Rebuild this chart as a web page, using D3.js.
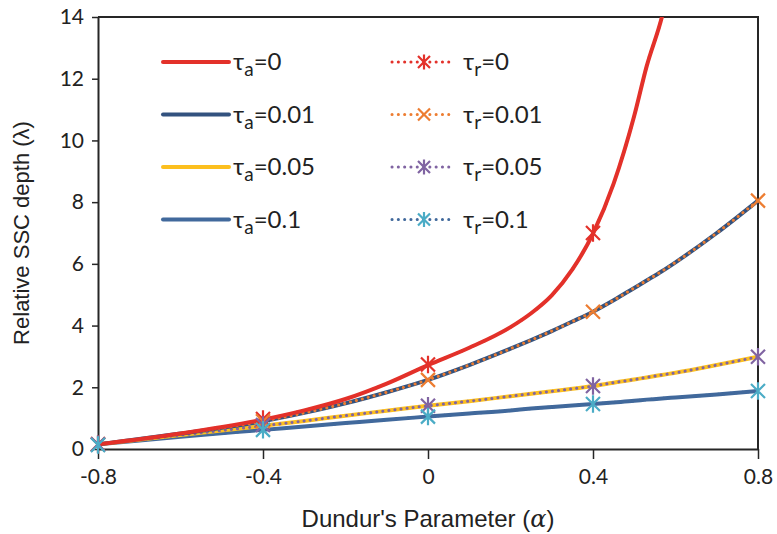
<!DOCTYPE html>
<html>
<head>
<meta charset="utf-8">
<script src="https://cdn.jsdelivr.net/npm/d3@7"></script>
<style>
  body { margin: 0; background: #fff; }
  #chart { width: 777px; height: 534px; }
</style>
</head>
<body>
<div id="chart"></div>
<script>
// x values of the marker points and the curve samples
var alphaMarks = [-0.8, -0.4, 0, 0.4, 0.8];
var alphaCurve = [-0.8, -0.6, -0.4, -0.3, -0.2, -0.1, 0, 0.1, 0.2, 0.25, 0.3, 0.35, 0.4, 0.45, 0.5, 0.53, 0.567, 0.6, 0.7, 0.8];

// solid curves (tau_a)
var curveT0   = [0.15, 0.5, 0.95, 1.25, 1.62, 2.12, 2.72, 3.28, 3.95, 4.4, 4.98, 5.82, 6.98, 8.6, 10.8, 12.4, 14.0, 16.0, null, null];
var curveT001 = [0.15, 0.5, 0.9, 1.17, 1.48, 1.84, 2.24, 2.72, 3.25, 3.53, 3.82, 4.13, 4.45, 4.82, 5.22, 5.46, 5.76, 6.05, 7.0, 8.05];
var curveT005 = [0.15, 0.45, 0.75, 0.91, 1.08, 1.24, 1.40, 1.55, 1.71, 1.79, 1.87, 1.95, 2.04, 2.15, 2.25, 2.32, 2.4, 2.47, 2.72, 2.99];
var curveT01  = [0.15, 0.4, 0.62, 0.73, 0.84, 0.95, 1.05, 1.15, 1.25, 1.31, 1.36, 1.41, 1.46, 1.51, 1.56, 1.6, 1.64, 1.67, 1.77, 1.88];

// marker values (tau_r)
var markR0   = [0.15, 0.97, 2.74, 7.0, null];
var markR001 = [0.15, 0.9, 2.24, 4.45, 8.05];
var markR005 = [0.15, 0.78, 1.40, 2.04, 2.99];
var markR01  = [0.13, 0.62, 1.05, 1.46, 1.88];

var xTicks = [-0.8, -0.4, 0, 0.4, 0.8];
var yTicks = [0, 2, 4, 6, 8, 10, 12, 14];

var seriesA = [
  { name: "0",    values: curveT0,   color: "#e3312a" },
  { name: "0.01", values: curveT001, color: "#33527f" },
  { name: "0.05", values: curveT005, color: "#fcbf1e" },
  { name: "0.1",  values: curveT01,  color: "#41699c" }
];
var seriesR = [
  { name: "0",    curve: curveT0,   marks: markR0,   color: "#e3312a", mark: "#e3312a", shape: "star" },
  { name: "0.01", curve: curveT001, marks: markR001, color: "#ed7d31", mark: "#ed7d31", shape: "x" },
  { name: "0.05", curve: curveT005, marks: markR005, color: "#8064a2", mark: "#8064a2", shape: "star" },
  { name: "0.1",  curve: curveT01,  marks: markR01,  color: "#41699c", mark: "#4bacc6", shape: "star" }
];

var svgWidth = 777, svgHeight = 534;
var margin = { top: 17, right: 19, bottom: 85, left: 98 };
var width = svgWidth - margin.left - margin.right;
var height = svgHeight - margin.top - margin.bottom;

var svg = d3.select("#chart").append("svg")
  .attr("width", svgWidth)
  .attr("height", svgHeight);

var chartGroup = svg.append("g")
  .attr("transform", `translate(${margin.left}, ${margin.top})`);

// scales
var xScale = d3.scaleLinear().domain([-0.8, 0.8]).range([0, width]);
var yScale = d3.scaleLinear().domain([0, 14]).range([height, 0]);

// clip so the red curve leaves through the top
chartGroup.append("clipPath").attr("id", "plotClip")
  .append("rect").attr("x", -10).attr("y", 0).attr("width", width + 20).attr("height", height + 10);

// axes
var xAxis = d3.axisBottom(xScale).tickValues(xTicks).tickSize(10).tickSizeOuter(0)
  .tickFormat(d => d === 0 ? "0" : d3.format(".1f")(d).replace("−", "-"));
var yAxis = d3.axisLeft(yScale).tickValues(yTicks).tickSize(6).tickSizeOuter(0);

var gx = chartGroup.append("g")
  .attr("transform", `translate(0, ${height})`)
  .call(xAxis);
var gy = chartGroup.append("g").call(yAxis);

[gx, gy].forEach(g => {
  g.select(".domain").attr("stroke", "#262626").attr("stroke-width", 2);
  g.selectAll(".tick line").attr("stroke", "#262626").attr("stroke-width", 1.5);
  g.selectAll(".tick text")
    .attr("fill", "#222")
    .style("font-family", "Lato, 'Open Sans', sans-serif")
    .style("font-size", "21px");
});
gx.selectAll(".tick text").attr("dy", "1.05em");
gy.selectAll(".tick text").attr("x", -14);

// top and right border
chartGroup.append("path")
  .attr("d", `M0,0 H${width} V${height}`)
  .attr("fill", "none")
  .attr("stroke", "#262626")
  .attr("stroke-width", 2);

// line generators
var lineGen = d3.line()
  .defined(d => d[1] !== null)
  .x(d => xScale(d[0]))
  .y(d => yScale(d[1]))
  .curve(d3.curveMonotoneX);

var plot = chartGroup.append("g").attr("clip-path", "url(#plotClip)");

function pairs(xs, ys) {
  return xs.map((x, i) => [x, ys[i]]);
}

// solid tau_a lines, then dotted tau_r lines on top, each pair drawn together
var order = [3, 2, 1, 0];
order.forEach(i => {
  var a = seriesA[i], r = seriesR[i];
  plot.append("path")
    .datum(pairs(alphaCurve, a.values))
    .attr("d", lineGen)
    .attr("fill", "none")
    .attr("stroke", a.color)
    .attr("stroke-width", 4);
  plot.append("path")
    .datum(pairs(alphaCurve, r.curve))
    .attr("d", lineGen)
    .attr("fill", "none")
    .attr("stroke", r.color)
    .attr("stroke-width", 3)
    .attr("stroke-linecap", "round")
    .attr("stroke-dasharray", "0.1 6");
});

// marker shapes
function markerPath(shape, s) {
  var p = `M${-s},${-s}L${s},${s}M${-s},${s}L${s},${-s}`;
  if (shape === "star") p += `M0,${-s * 1.25}L0,${s * 1.25}`;
  return p;
}

seriesR.forEach(r => {
  plot.selectAll(null)
    .data(pairs(alphaMarks, r.marks).filter(d => d[1] !== null))
    .enter()
    .append("path")
    .attr("transform", d => `translate(${xScale(d[0])}, ${yScale(d[1])})`)
    .attr("d", markerPath(r.shape, 7))
    .attr("fill", "none")
    .attr("stroke", r.mark)
    .attr("stroke-width", 2.2);
});

// legend
var legendFont = "Lato, 'Open Sans', sans-serif";
var rowY = [62, 114.5, 167, 219.5];

function legendLabel(g, x, y, sub, val) {
  var t = g.append("text")
    .attr("x", x).attr("y", y + 8)
    .attr("fill", "#222")
    .style("font-family", legendFont)
    .style("font-size", "24px");
  t.append("tspan").text("τ");
  t.append("tspan").text(sub).attr("dy", 6).style("font-size", "19px");
  t.append("tspan").text("=" + val).attr("dy", -6);
}

var legend = svg.append("g");
seriesA.forEach((a, i) => {
  legend.append("line")
    .attr("x1", 163).attr("x2", 229)
    .attr("y1", rowY[i]).attr("y2", rowY[i])
    .attr("stroke", a.color)
    .attr("stroke-width", 4)
    .attr("stroke-linecap", "round");
  legendLabel(legend, 233, rowY[i], "a", a.name);
});
seriesR.forEach((r, i) => {
  legend.append("line")
    .attr("x1", 392).attr("x2", 454)
    .attr("y1", rowY[i]).attr("y2", rowY[i])
    .attr("stroke", r.color)
    .attr("stroke-width", 3)
    .attr("stroke-linecap", "round")
    .attr("stroke-dasharray", "0.1 6.2");
  legend.append("path")
    .attr("transform", `translate(424, ${rowY[i]})`)
    .attr("d", markerPath(r.shape, 6))
    .attr("fill", "none")
    .attr("stroke", r.mark)
    .attr("stroke-width", 2.2);
  legendLabel(legend, 463, rowY[i], "r", r.name);
});

// axis titles
svg.append("text")
  .attr("transform", `translate(29, ${margin.top + height / 2}) rotate(-90)`)
  .attr("text-anchor", "middle")
  .attr("fill", "#222")
  .style("font-family", "'Liberation Sans', Arial, sans-serif")
  .style("font-size", "22px")
  .text("Relative SSC depth (λ)");

var xt = svg.append("text")
  .attr("x", margin.left + width / 2)
  .attr("y", 527)
  .attr("text-anchor", "middle")
  .attr("fill", "#222")
  .style("font-family", "'Liberation Sans', Arial, sans-serif")
  .style("font-size", "24px");
xt.append("tspan").text("Dundur's Parameter (");
xt.append("tspan").text("α").style("font-style", "italic").style("font-family", "'DejaVu Serif', serif");
xt.append("tspan").text(")");
</script>
</body>
</html>
